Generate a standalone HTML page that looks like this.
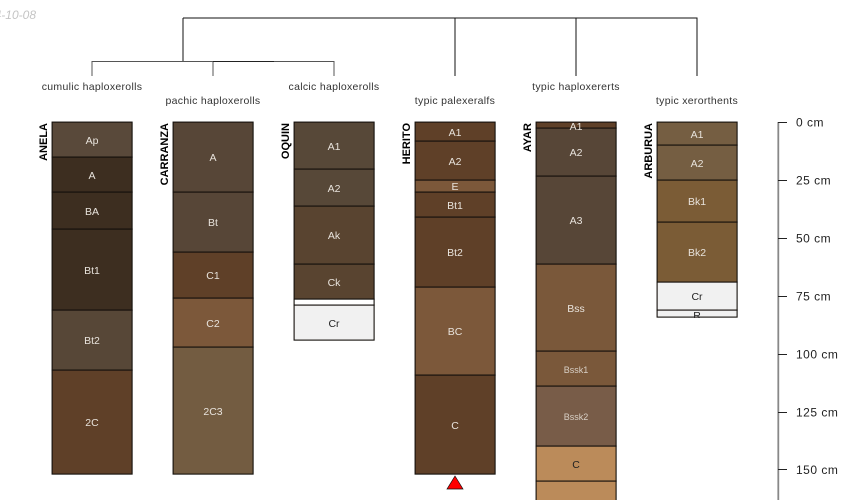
<!DOCTYPE html>
<html><head><meta charset="utf-8"><style>
html,body{margin:0;padding:0;background:#fff;width:850px;height:500px;overflow:hidden}
svg{display:block}
text{font-family:"Liberation Sans",sans-serif}
.h{font-size:10.5px;text-anchor:middle;fill:#e8e3dc}
.d{font-size:10.5px;text-anchor:middle;fill:#222}
.s{font-size:9px;text-anchor:middle;fill:#d8d0c6}
.t{font-size:10.5px;text-anchor:middle;fill:#333;letter-spacing:.3px}
.n{font-size:11px;font-weight:bold;fill:#000}
.a{font-size:12px;fill:#222;letter-spacing:.5px}
rect{stroke:#14100c;stroke-width:1.1}
</style></head><body>
<svg width="850" height="500" viewBox="0 0 850 500" xmlns="http://www.w3.org/2000/svg">
<text x="-25.4" y="19" font-size="12" font-style="italic" fill="#c4c4c4">2024-10-08</text>
<g fill="none" stroke="#111" stroke-width="1" shape-rendering="crispEdges">
<path d="M183 18H697V76M183 18V61M455 18V76M576 18V76"/>
<path d="M92 76V61.5H334V76M213 61.5V76" stroke="#555"/>
<path d="M213 61.5H274" stroke="#222"/>
</g>
<text class="t" x="92" y="90">cumulic haploxerolls</text>
<text class="t" x="213" y="104">pachic haploxerolls</text>
<text class="t" x="334" y="90">calcic haploxerolls</text>
<text class="t" x="455" y="104">typic palexeralfs</text>
<text class="t" x="576" y="90">typic haploxererts</text>
<text class="t" x="697" y="104">typic xerorthents</text>

<g transform="translate(-0.4,-0.4)">
<rect x="52.5" y="122.5" width="80" height="35" fill="#59493a"/>
<rect x="52.5" y="157.5" width="80" height="35" fill="#3d2e20"/>
<rect x="52.5" y="192.5" width="80" height="37" fill="#3d2e20"/>
<rect x="52.5" y="229.5" width="80" height="81" fill="#3d2e20"/>
<rect x="52.5" y="310.5" width="80" height="60" fill="#574737"/>
<rect x="52.5" y="370.5" width="80" height="104" fill="#5f4028"/>

<rect x="173.5" y="122.5" width="80" height="70" fill="#574637"/>
<rect x="173.5" y="192.5" width="80" height="60" fill="#574637"/>
<rect x="173.5" y="252.5" width="80" height="46" fill="#5f4028"/>
<rect x="173.5" y="298.5" width="80" height="49" fill="#7c583a"/>
<rect x="173.5" y="347.5" width="80" height="127" fill="#735c41"/>

<rect x="294.5" y="122.5" width="80" height="47" fill="#574838"/>
<rect x="294.5" y="169.5" width="80" height="37" fill="#574838"/>
<rect x="294.5" y="206.5" width="80" height="58" fill="#594430"/>
<rect x="294.5" y="264.5" width="80" height="35" fill="#594430"/>
<rect x="294.5" y="299.5" width="80" height="6" fill="#fff"/>
<rect x="294.5" y="305.5" width="80" height="35" fill="#f1f1f1"/>

<rect x="415.5" y="122.5" width="80" height="19" fill="#5f4028"/>
<rect x="415.5" y="141.5" width="80" height="39" fill="#5f4028"/>
<rect x="415.5" y="180.5" width="80" height="12" fill="#7c583a"/>
<rect x="415.5" y="192.5" width="80" height="25" fill="#5f4028"/>
<rect x="415.5" y="217.5" width="80" height="70" fill="#5f4028"/>
<rect x="415.5" y="287.5" width="80" height="88" fill="#7c583a"/>
<rect x="415.5" y="375.5" width="80" height="99" fill="#5f4028"/>

<rect x="536.5" y="122.5" width="80" height="6" fill="#5f4028"/>
<rect x="536.5" y="128.5" width="80" height="48" fill="#574637"/>
<rect x="536.5" y="176.5" width="80" height="88" fill="#574637"/>
<rect x="536.5" y="264.5" width="80" height="87" fill="#7a583a"/>
<rect x="536.5" y="351.5" width="80" height="35" fill="#7a583a"/>
<rect x="536.5" y="386.5" width="80" height="60" fill="#785c48"/>
<rect x="536.5" y="446.5" width="80" height="35" fill="#bb8b5a"/>
<rect x="536.5" y="481.5" width="80" height="40" fill="#bb8b5a"/>

<rect x="657.5" y="122.5" width="80" height="23" fill="#755e42"/>
<rect x="657.5" y="145.5" width="80" height="35" fill="#755e42"/>
<rect x="657.5" y="180.5" width="80" height="42" fill="#7b5c36"/>
<rect x="657.5" y="222.5" width="80" height="60" fill="#7b5c36"/>
<rect x="657.5" y="282.5" width="80" height="28" fill="#f1f1f1"/>
<rect x="657.5" y="310.5" width="80" height="7" fill="#f1f1f1"/>
</g>

<text class="h" x="92" y="144">Ap</text>
<text class="h" x="92" y="179">A</text>
<text class="h" x="92" y="215">BA</text>
<text class="h" x="92" y="274">Bt1</text>
<text class="h" x="92" y="344">Bt2</text>
<text class="h" x="92" y="426">2C</text>

<text class="h" x="213" y="161">A</text>
<text class="h" x="213" y="226">Bt</text>
<text class="h" x="213" y="279">C1</text>
<text class="h" x="213" y="327">C2</text>
<text class="h" x="213" y="415">2C3</text>

<text class="h" x="334" y="150">A1</text>
<text class="h" x="334" y="192">A2</text>
<text class="h" x="334" y="239">Ak</text>
<text class="h" x="334" y="286">Ck</text>
<text class="d" x="334" y="327">Cr</text>

<text class="h" x="455" y="136">A1</text>
<text class="h" x="455" y="165">A2</text>
<text class="h" x="455" y="190">E</text>
<text class="h" x="455" y="209">Bt1</text>
<text class="h" x="455" y="256">Bt2</text>
<text class="h" x="455" y="335">BC</text>
<text class="h" x="455" y="429">C</text>

<text class="h" x="576" y="130">A1</text>
<text class="h" x="576" y="156">A2</text>
<text class="h" x="576" y="224">A3</text>
<text class="h" x="576" y="312">Bss</text>
<text class="s" x="576" y="373">Bssk1</text>
<text class="s" x="576" y="420">Bssk2</text>
<text class="d" x="576" y="468">C</text>

<text class="h" x="697" y="138">A1</text>
<text class="h" x="697" y="167">A2</text>
<text class="h" x="697" y="205">Bk1</text>
<text class="h" x="697" y="256">Bk2</text>
<text class="d" x="697" y="300">Cr</text>
<text class="d" x="697" y="319">R</text>
<rect x="650" y="318" width="95" height="6" fill="#fff" style="stroke:none"/>

<text class="n" transform="translate(47,123) rotate(-90)" text-anchor="end">ANELA</text>
<text class="n" transform="translate(168,123) rotate(-90)" text-anchor="end">CARRANZA</text>
<text class="n" transform="translate(289,123) rotate(-90)" text-anchor="end">OQUIN</text>
<text class="n" transform="translate(410,123) rotate(-90)" text-anchor="end">HERITO</text>
<text class="n" transform="translate(531,123) rotate(-90)" text-anchor="end">AYAR</text>
<text class="n" transform="translate(652,123) rotate(-90)" text-anchor="end">ARBURUA</text>

<polygon points="455,476 463,489 447,489" fill="#ff0000" stroke="#111" stroke-width="0.7"/>

<path d="M778.3 122V500" stroke="#888" stroke-width="1.8" fill="none"/>
<g stroke="#222" stroke-width="1" shape-rendering="crispEdges">
<path d="M778 122.5H787M778 180.5H787M778 238.5H787M778 296.5H787M778 354.5H787M778 412.5H787M778 469.5H787"/>
</g>
<text class="a" x="796" y="126.5">0 cm</text>
<text class="a" x="796" y="184.5">25 cm</text>
<text class="a" x="796" y="242.5">50 cm</text>
<text class="a" x="796" y="300.5">75 cm</text>
<text class="a" x="796" y="358.5">100 cm</text>
<text class="a" x="796" y="416.5">125 cm</text>
<text class="a" x="796" y="474">150 cm</text>
</svg>
</body></html>
